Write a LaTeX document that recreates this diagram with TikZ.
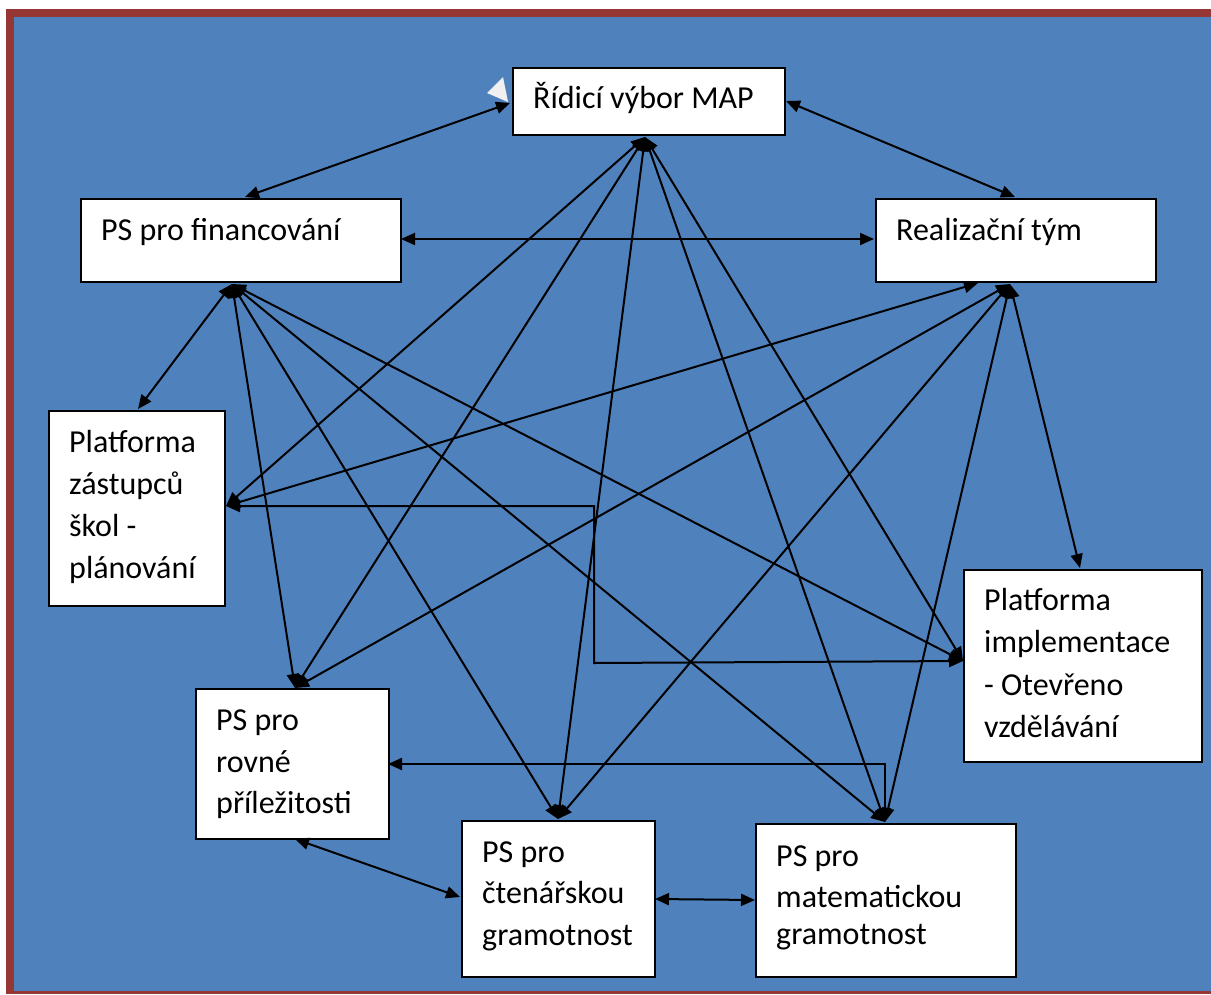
\documentclass[tikz,border=0pt]{standalone}
\usepackage{fontspec}
\setmainfont{Carlito}
\usetikzlibrary{arrows.meta}
\definecolor{bgblue}{RGB}{79,129,189}
\definecolor{frame}{RGB}{150,55,53}
\begin{document}
\begin{tikzpicture}[x=1pt,y=-1pt,
  box/.style={draw=black,fill=white,line width=2pt,rectangle,inner sep=0pt,anchor=north west},
  txt/.style={anchor=base west,inner sep=0pt,font=\fontsize{32}{42}\selectfont},
  conn/.style={line width=2pt,{Triangle[length=14pt,width=12pt]}-{Triangle[length=14pt,width=12pt]}}]
\useasboundingbox (0,0) rectangle (1211,994);
\fill[white] (0,0) rectangle (1211,994);
\fill[frame] (6,9) rectangle (1211,994);
\fill[bgblue] (14,17) rectangle (1211,991);
% decorative light triangles
\fill[gray!12] (487,93) -- (503,77) -- (508,102) -- cycle;
\fill[gray!12] (512,102) -- (537,112) -- (520,125) -- cycle;
% boxes
\node[box,minimum width=272pt,minimum height=67pt] (R) at (512,67) {};
\node[box,minimum width=320pt,minimum height=83pt] (F) at (80,198) {};
\node[box,minimum width=280pt,minimum height=83pt] (Z) at (875,198) {};
\node[box,minimum width=176pt,minimum height=195pt] (P) at (48,410) {};
\node[box,minimum width=238pt,minimum height=192pt] (I) at (963,569) {};
\node[box,minimum width=193pt,minimum height=150pt] (O) at (195,688) {};
\node[box,minimum width=193pt,minimum height=156pt] (C) at (461,820) {};
\node[box,minimum width=260pt,minimum height=153pt] (M) at (755,823) {};
% texts
\node[txt] (tR) at (533,108) {Řídicí výbor MAP};
\node[txt] (tF) at (101,240) {PS pro financování};
\node[txt] (tZ) at (896,240) {Realizační tým};
\node[txt] (tP1) at (69,452) {Platforma};
\node[txt] (tP2) at (69,494) {zástupců};
\node[txt] (tP3) at (69,536) {škol -};
\node[txt] (tP4) at (69,578) {plánování};
\node[txt] (tI1) at (984,610) {Platforma};
\node[txt] (tI2) at (984,652) {implementace};
\node[txt] (tI3) at (984,695) {- Otevřeno};
\node[txt] (tI4) at (984,737) {vzdělávání};
\node[txt] (tO1) at (216,730) {PS pro};
\node[txt] (tO2) at (216,772) {rovné};
\node[txt] (tO3) at (216,813) {příležitosti};
\node[txt] (tC1) at (482,862) {PS pro};
\node[txt] (tC2) at (482,903) {čtenářskou};
\node[txt] (tC3) at (482,945) {gramotnost};
\node[txt] (tM1) at (776,866) {PS pro};
\node[txt] (tM2) at (776,907) {matematickou};
\node[txt] (tM3) at (776,944) {gramotnost};
% attachment points
\coordinate (RL) at (510,103);
\coordinate (RR) at (786,101);
\coordinate (RB) at (645,137);
\coordinate (FT) at (245,197);
\coordinate (FR) at (401,239);
\coordinate (FB) at (232,284);
\coordinate (ZT) at (1015,197);
\coordinate (ZL) at (874,239);
\coordinate (ZB) at (1010,284);
\coordinate (ZB2) at (978,283);
\coordinate (PT) at (138,409);
\coordinate (PR) at (226,506);
\coordinate (IL) at (963,661);
\coordinate (IT) at (1080,568);
\coordinate (OT) at (295,688);
\coordinate (OR) at (388,764);
\coordinate (OB) at (295,839);
\coordinate (CT) at (558,819);
\coordinate (CL) at (460,897);
\coordinate (CR) at (655,899);
\coordinate (MT) at (885,822);
\coordinate (ML) at (755,900);
\coordinate (e1) at (594,506);
\coordinate (e2) at (594,663);
\coordinate (e3) at (885,764);
% connectors
\draw[conn] (RL) -- (FT);
\draw[conn] (RR) -- (ZT);
\draw[conn] (FR) -- (ZL);
\draw[conn] (FB) -- (PT);
\draw[conn] (RB) -- (PR);
\draw[conn] (ZB2) -- (PR);
\draw[conn] (PR) -- (e1) -- (e2) -- (IL);
\draw[conn] (RB) -- (OT);
\draw[conn] (ZB) -- (OT);
\draw[conn] (FB) -- (OT);
\draw[conn] (FB) -- (CT);
\draw[conn] (FB) -- (MT);
\draw[conn] (FB) -- (IL);
\draw[conn] (RB) -- (CT);
\draw[conn] (RB) -- (MT);
\draw[conn] (RB) -- (IL);
\draw[conn] (ZB) -- (CT);
\draw[conn] (ZB) -- (MT);
\draw[conn] (ZB) -- (IT);
\draw[conn] (MT) -- (e3) -- (OR);
\draw[conn] (OB) -- (CL);
\draw[conn] (CR) -- (ML);
\end{tikzpicture}
\end{document}
